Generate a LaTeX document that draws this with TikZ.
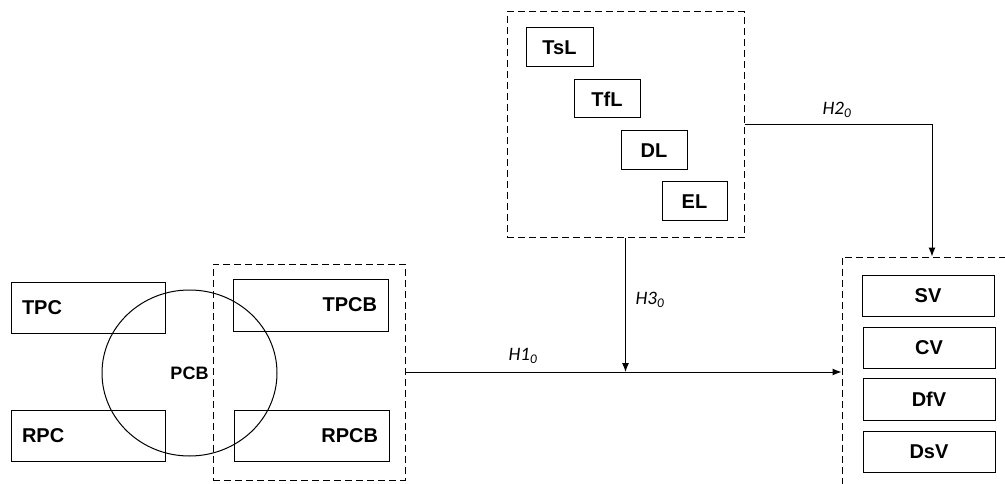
\documentclass[tikz,border=0pt]{standalone}
\usepackage{fontspec}
\setmainfont{Liberation Sans}
\newfontfamily\labfont{Carlito}
\usetikzlibrary{arrows.meta,shapes.geometric}
\tikzset{
  box/.style={draw, line width=1pt, rectangle, inner sep=0pt, font=\fontsize{20}{22}\selectfont\bfseries},
  grp/.style={draw, line width=1pt, dash pattern=on 7pt off 4pt, rectangle, inner sep=0pt},
  conn/.style={line width=1pt, -{Latex[length=9pt,width=7pt]}},
  lab/.style={font=\fontsize{19}{21}\selectfont\labfont\itshape, inner sep=0pt},
}
\begin{document}
\begin{tikzpicture}[x=1pt,y=-1pt]
\useasboundingbox (0,0) rectangle (1005,484);
\clip (0,0) rectangle (1005,484);
% left boxes
\node[box, minimum width=154pt, minimum height=51pt, text width=132pt, inner xsep=11pt, align=left] (tpc) at (88,307.5) {TPC};
\node[box, minimum width=154pt, minimum height=51pt, text width=132pt, inner xsep=11pt, align=left] (rpc) at (88,435.5) {RPC};
\node[draw, line width=1pt, ellipse, minimum width=175pt, minimum height=166pt, inner sep=0pt, font=\fontsize{18}{20}\selectfont\bfseries] (pcb) at (189.5,373) {PCB};
% group 1
\node[grp, minimum width=192pt, minimum height=216pt] (g1) at (309,372) {};
\node[box, minimum width=155pt, minimum height=52pt, text width=133pt, inner xsep=11pt, align=right] (tpcb) at (310.5,305) {TPCB};
\node[box, minimum width=155pt, minimum height=51pt, text width=133pt, inner xsep=11pt, align=right] (rpcb) at (311.5,435.5) {RPCB};
% top group
\node[grp, minimum width=237pt, minimum height=226pt] (g2) at (625.5,125) {};
\node[box, minimum width=67pt, minimum height=39pt] (tsl) at (559.5,47.5) {TsL};
\node[box, minimum width=66pt, minimum height=38pt] (tfl) at (607,99) {TfL};
\node[box, minimum width=66pt, minimum height=39pt] (dl) at (654,150.5) {DL};
\node[box, minimum width=65pt, minimum height=39pt] (el) at (694.5,201.5) {EL};
% right group (extends beyond picture)
\node[grp, minimum width=180pt, minimum height=233pt] (g3) at (932,373.5) {};
\node[box, minimum width=132pt, minimum height=41pt] (sv) at (928,295.5) {SV};
\node[box, minimum width=132pt, minimum height=41pt] (cv) at (929,347.5) {CV};
\node[box, minimum width=132pt, minimum height=42pt] (dfv) at (929,399) {DfV};
\node[box, minimum width=132pt, minimum height=41pt] (dsv) at (929,451.5) {DsV};
% connectors
\coordinate (j) at (g2.south |- g1.east);
\draw[conn] (g1.east) -- (g1.east -| g3.west);
\draw[conn] (g2.south) -- (j);
\draw[conn] (g2.east) -| (g3.north);
% labels
\node[lab] (h1) at (523,356) {H1\textsubscript{0}};
\node[lab] (h3) at (650,300) {H3\textsubscript{0}};
\node[lab] (h2) at (837,110) {H2\textsubscript{0}};
\end{tikzpicture}
\end{document}
